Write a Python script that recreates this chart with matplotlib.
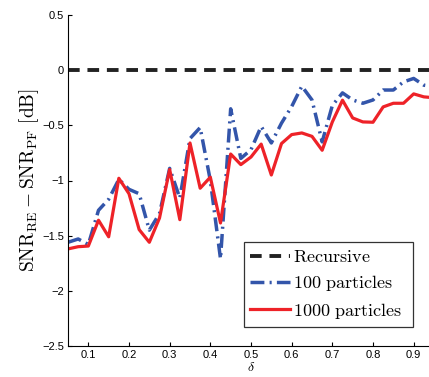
import matplotlib
matplotlib.use("Agg")
import matplotlib.pyplot as plt
import numpy as np

delta = [0.05, 0.075, 0.1, 0.125, 0.15, 0.175, 0.2, 0.225, 0.25, 0.275, 0.3, 0.325,
         0.35, 0.375, 0.4, 0.425, 0.45, 0.475, 0.5, 0.525, 0.55, 0.575, 0.6, 0.625,
         0.65, 0.675, 0.7, 0.725, 0.75, 0.775, 0.8, 0.825, 0.85, 0.875, 0.9, 0.925, 0.95]
recursive = [0.0] * len(delta)
p100 = [-1.56, -1.53, -1.58, -1.27, -1.17, -0.99, -1.08, -1.12, -1.45, -1.30, -0.89, -1.16,
        -0.62, -0.52, -1.00, -1.71, -0.35, -0.80, -0.72, -0.51, -0.66, -0.48, -0.33, -0.145,
        -0.27, -0.65, -0.32, -0.206, -0.27, -0.30, -0.27, -0.18, -0.18, -0.106, -0.075, -0.136, -0.15]
p1000 = [-1.62, -1.60, -1.594, -1.36, -1.51, -0.98, -1.12, -1.445, -1.56, -1.34, -0.90, -1.355,
         -0.66, -1.07, -0.97, -1.385, -0.76, -0.856, -0.787, -0.67, -0.95, -0.665, -0.584, -0.569,
         -0.60, -0.726, -0.469, -0.272, -0.433, -0.469, -0.472, -0.333, -0.30, -0.30, -0.215, -0.242, -0.25]

plt.rcParams['mathtext.fontset'] = 'cm'
fig = plt.figure(figsize=(4.29, 3.77), dpi=100)
ax = fig.add_axes([68/429, 1-346/377, 366/429, (346-15)/377])

ax.plot(delta, recursive, color='#222222', lw=2.8, linestyle=(0, (3, 2)), label=r'$\mathrm{Recursive}$')
ax.plot(delta, p100, color='#3355aa', lw=2.5, linestyle=(0, (4, 1.5, 0.6, 1.5)), label=r'$\mathrm{100\ particles}$')
ax.plot(delta, p1000, color='#ee2228', lw=2.3, linestyle='-', label=r'$\mathrm{1000\ particles}$')

ax.set_xlim(0.05, 0.95)
ax.set_ylim(-2.5, 0.5)
ax.set_xticks([0.1, 0.2, 0.3, 0.4, 0.5, 0.6, 0.7, 0.8, 0.9])
ax.set_xticklabels(['0.1', '0.2', '0.3', '0.4', '0.5', '0.6', '0.7', '0.8', '0.9'])
ax.set_yticks([0.5, 0, -0.5, -1, -1.5, -2, -2.5])
ax.set_yticklabels(['0.5', '0', '\u22120.5', '\u22121', '\u22121.5', '\u22122', '\u22122.5'])
ax.tick_params(direction='in', length=3, width=0.8, labelsize=8, pad=3)
for lab in ax.get_xticklabels() + ax.get_yticklabels():
    lab.set_fontfamily('Liberation Sans')
ax.spines['top'].set_visible(False)
ax.spines['right'].set_visible(False)
ax.spines['left'].set_linewidth(0.8)
ax.spines['bottom'].set_linewidth(0.8)

ax.set_ylabel(r'$\mathrm{SNR}_{\mathrm{RE}} - \mathrm{SNR}_{\mathrm{PF}}\ [\mathrm{dB}]$', fontsize=14, labelpad=1)
ax.set_xlabel(r'$\delta$', fontsize=10, labelpad=0)

leg = ax.legend(loc='lower left', bbox_to_anchor=((244-68)/366, (346-327)/331, (413-244)/366, (327-236)/331),
                mode='expand', fontsize=13, frameon=True, fancybox=False, edgecolor='black',
                handlelength=2.2, handletextpad=0.15, borderpad=0.35, labelspacing=0.4, borderaxespad=0)
leg.get_frame().set_linewidth(0.9)

fig.savefig('out.png', dpi=100)
